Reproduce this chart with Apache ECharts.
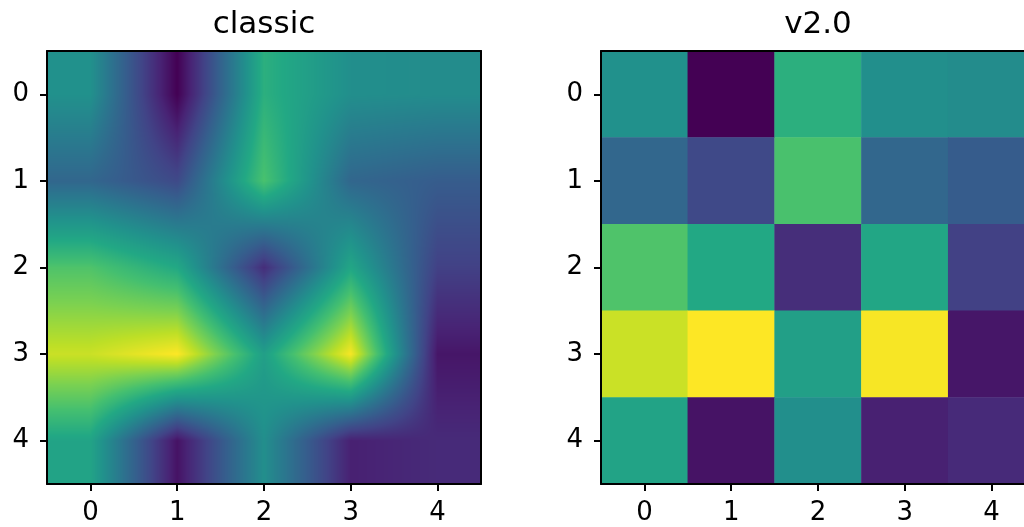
<!DOCTYPE html>
<html><head><meta charset="utf-8">
<script src="https://cdn.jsdelivr.net/npm/echarts/dist/echarts.min.js"></script>
<style>html,body{margin:0;padding:0;background:#fff}#c{width:1024px;height:527px}</style>
</head><body><div id="c"></div>
<script>
// ---- data ----
const xLabels = ['0', '1', '2', '3', '4'];
const yLabels = ['0', '1', '2', '3', '4'];
const titles = ['classic', 'v2.0'];
// grid values, one array per row (row index = y, position in array = x)
const row0 = [0.50, 0.00, 0.63, 0.49, 0.48];
const row1 = [0.33, 0.22, 0.71, 0.33, 0.29];
const row2 = [0.72, 0.60, 0.13, 0.59, 0.19];
const row3 = [0.92, 1.00, 0.56, 0.99, 0.06];
const row4 = [0.58, 0.05, 0.49, 0.09, 0.12];
const rows = [row0, row1, row2, row3, row4];
const viridis = ['#440154', '#482475', '#414487', '#355f8d', '#2a788e', '#21918c',
                 '#22a884', '#44bf70', '#7ad151', '#bddf26', '#fde725'];

// ---- helpers ----
const cells = [];
rows.forEach((r, y) => r.forEach((v, x) => cells.push([x, y, v])));
const vmin = Math.min(...cells.map(c => c[2]));
const vmax = Math.max(...cells.map(c => c[2]));
const stopsRGB = viridis.map(h => [parseInt(h.substr(1, 2), 16), parseInt(h.substr(3, 2), 16), parseInt(h.substr(5, 2), 16)]);
function cmap(t) {
  t = Math.min(Math.max(t, 0), 1) * (stopsRGB.length - 1);
  const i = Math.min(Math.floor(t), stopsRGB.length - 2), f = t - i;
  const a = stopsRGB[i], b = stopsRGB[i + 1];
  return [a[0] + (b[0] - a[0]) * f, a[1] + (b[1] - a[1]) * f, a[2] + (b[2] - a[2]) * f];
}
const n = rows.length;
function bilinear(u, v) {
  u = Math.min(Math.max(u, 0), n - 1); v = Math.min(Math.max(v, 0), n - 1);
  const i0 = Math.min(Math.floor(u), n - 2), j0 = Math.min(Math.floor(v), n - 2);
  const fx = u - i0, fy = v - j0;
  const a = rows[j0][i0], b = rows[j0][i0 + 1], c = rows[j0 + 1][i0], d = rows[j0 + 1][i0 + 1];
  return a * (1 - fx) * (1 - fy) + b * fx * (1 - fy) + c * (1 - fx) * fy + d * fx * fy;
}

function renderSmooth(params, api) {
  const xi = api.value(0), yi = api.value(1);
  const c = api.coord([xi, yi]);
  const s = api.size([1, 1]);
  const lx = c[0] - s[0] / 2, ty = c[1] - s[1] / 2;
  const x0 = Math.round(lx), x1 = Math.round(c[0] + s[0] / 2);
  const y0 = Math.round(ty), y1 = Math.round(c[1] + s[1] / 2);
  const w = Math.max(1, x1 - x0), h = Math.max(1, y1 - y0);
  const cv = document.createElement('canvas');
  cv.width = w; cv.height = h;
  const ctx = cv.getContext('2d');
  const img = ctx.createImageData(w, h);
  for (let py = 0; py < h; py++) {
    const v = yi - 0.5 + (y0 + py + 0.5 - ty) / s[1];
    for (let px = 0; px < w; px++) {
      const u = xi - 0.5 + (x0 + px + 0.5 - lx) / s[0];
      const val = bilinear(u, v);
      const col = cmap((val - vmin) / (vmax - vmin));
      const k = (py * w + px) * 4;
      img.data[k] = col[0]; img.data[k + 1] = col[1]; img.data[k + 2] = col[2]; img.data[k + 3] = 255;
    }
  }
  ctx.putImageData(img, 0, 0);
  return { type: 'image', style: { image: cv, x: x0, y: y0, width: w, height: h } };
}

const FONT = 'DejaVu Sans';
const lineStyle = { color: '#000', width: 2 };
function mainX(gi) {
  return { type: 'category', gridIndex: gi, data: xLabels, position: 'bottom', z: 10,
    axisLine: { show: true, onZero: false, lineStyle },
    axisTick: { show: true, alignWithLabel: true, length: 7, lineStyle },
    axisLabel: { show: true, fontSize: 26, color: '#000', fontFamily: FONT, margin: 16 },
    splitLine: { show: false }, splitArea: { show: false } };
}
function mainY(gi) {
  return { type: 'category', gridIndex: gi, data: yLabels, inverse: true, position: 'left', z: 10,
    axisLine: { show: true, onZero: false, lineStyle },
    axisTick: { show: true, alignWithLabel: true, length: 7, lineStyle },
    axisLabel: { show: true, fontSize: 26, color: '#000', fontFamily: FONT, margin: 18 },
    splitLine: { show: false }, splitArea: { show: false } };
}
function frameX(gi) {
  return { type: 'category', gridIndex: gi, data: xLabels, position: 'top', z: 10,
    axisLine: { show: true, onZero: false, lineStyle }, axisTick: { show: false },
    axisLabel: { show: false }, splitLine: { show: false } };
}
function frameY(gi) {
  return { type: 'category', gridIndex: gi, data: yLabels, inverse: true, position: 'right', z: 10,
    axisLine: { show: true, onZero: false, lineStyle }, axisTick: { show: false },
    axisLabel: { show: false }, splitLine: { show: false } };
}

const chart = echarts.init(document.getElementById('c'), null, { renderer: 'canvas' });
chart.setOption({
  animation: false,
  backgroundColor: '#fff',
  textStyle: { fontFamily: FONT },
  title: [
    { text: titles[0], left: 264, top: 9, textAlign: 'center', padding: 0,
      textStyle: { fontSize: 31, fontWeight: 'normal', color: '#000', fontFamily: FONT } },
    { text: titles[1], left: 818, top: 9, textAlign: 'center', padding: 0,
      textStyle: { fontSize: 31, fontWeight: 'normal', color: '#000', fontFamily: FONT } }
  ],
  grid: [
    { left: 47, top: 51, width: 434, height: 433, outerBoundsMode: 'none', containLabel: false },
    { left: 601, top: 51, width: 434, height: 433, outerBoundsMode: 'none', containLabel: false }
  ],
  xAxis: [mainX(0), frameX(0), mainX(1), frameX(1)],
  yAxis: [mainY(0), frameY(0), mainY(1), frameY(1)],
  visualMap: {
    type: 'continuous', show: false, min: vmin, max: vmax, dimension: 2,
    seriesIndex: 1, inRange: { color: viridis }
  },
  series: [
    { type: 'custom', xAxisIndex: 0, yAxisIndex: 0, data: cells, renderItem: renderSmooth,
      encode: { x: 0, y: 1 }, silent: true, z: 2 },
    { type: 'heatmap', xAxisIndex: 2, yAxisIndex: 2, data: cells, silent: true, z: 2,
      itemStyle: { borderWidth: 0 }, emphasis: { disabled: true } }
  ]
});
</script>
</body></html>
